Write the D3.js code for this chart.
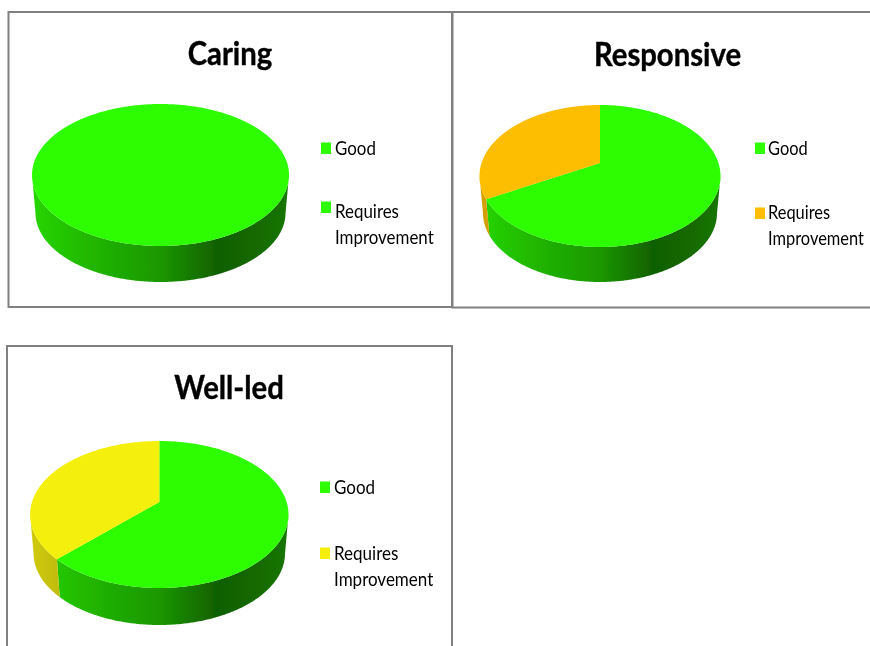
<!DOCTYPE html>
<html>
<head>
<meta charset="utf-8">
<script src="https://cdn.jsdelivr.net/npm/d3@7"></script>
<style>
  html, body { margin: 0; padding: 0; background: #fff; overflow: hidden; }
  text { font-family: Lato, "Open Sans", sans-serif; fill: #000; }
</style>
</head>
<body>
<div id="chart"></div>
<script>
// values (share of the pie, %)
const titles = ["Caring", "Responsive", "Well-led"];
const categories = ["Good", "Requires Improvement"];
const goodValues = [100, 67, 62.5];
const requiresValues = [0, 33, 37.5];
const goodColor = "#2dfc00";
const requiresColors = ["#2dfc00", "#fdbd00", "#f5ef0a"];

// layout of each panel, measured in px
const layouts = [
  { box: [8.5, 12, 452, 307], titleX: 230, titleY: 65, cx: 160.5, rx: 128.5, top: 104, apex: 162, bottom: 246, floor: 282, legendX: 321, legendY: [148, 207], textX: 335, squeeze: 0.89, textY: [155, 218, 244] },
  { box: [452.5, 12, 880, 307.5], titleX: 667.5, titleY: 66, cx: 600, rx: 120.5, top: 105, apex: 163, bottom: 247, floor: 282, legendX: 755, legendY: [148, 213], textX: 768, squeeze: 0.865, textY: [155, 219, 245] },
  { box: [7, 346, 452, 660], titleX: 229, titleY: 399, cx: 159.3, rx: 129.2, top: 441, apex: 502, bottom: 588, floor: 625, legendX: 320, legendY: [487, 553], textX: 334, squeeze: 0.895, textY: [494, 560, 586] }
];

const width = 870, height = 646;

const svg = d3.select("#chart")
  .append("svg")
  .attr("width", width)
  .attr("height", height)
  .attr("viewBox", [0, 0, width, height])
  .style("display", "block");

const defs = svg.append("defs");

// the reference is a slightly soft bitmap
defs.append("filter")
  .attr("id", "soft")
  .attr("filterUnits", "userSpaceOnUse")
  .attr("x", 0).attr("y", 0)
  .attr("width", width).attr("height", height)
  .append("feGaussianBlur")
  .attr("stdDeviation", 0.4);

const root = svg.append("g").attr("filter", "url(#soft)");

// shading along the side wall, as a share of the slice colour
const wallShade = [[0, 0.85], [0.2, 0.74], [0.5, 0.6], [0.72, 0.38], [0.85, 0.41], [1, 0.47]];

const pie = d3.pie().sort(null).value(d => d);
const line = d3.line();

titles.forEach((title, i) => {
  const lay = layouts[i];
  const values = [goodValues[i], requiresValues[i]];
  const colors = [goodColor, requiresColors[i]];
  const g = root.append("g");

  g.append("rect")
    .attr("x", lay.box[0])
    .attr("y", lay.box[1])
    .attr("width", lay.box[2] - lay.box[0])
    .attr("height", lay.box[3] - lay.box[1])
    .attr("fill", "#fff")
    .attr("stroke", "#808080")
    .attr("stroke-width", 2);

  // the pie is tilted with perspective, so the apex sits above the ellipse centre
  const upper = lay.apex - lay.top, lower = lay.bottom - lay.apex;
  const k = (upper - lower) / (upper + lower);
  const ry = upper * (1 - k);
  const rx = lay.rx * Math.sqrt(1 - k * k);
  const midY = (lay.top + lay.bottom) / 2;
  const project = a => {
    const px = Math.sin(a), py = -Math.cos(a), w = 1 + k * py;
    return [lay.cx + rx * px / w, lay.apex + ry * py / w];
  };

  // bottom rim is a touch narrower than the top one
  const shrink = (lay.rx - 3.5) / lay.rx;
  const drop = lay.floor - (midY + (lay.bottom - midY) * shrink);
  const toFloor = p => [lay.cx + (p[0] - lay.cx) * shrink, midY + (p[1] - midY) * shrink + drop];

  const arcs = pie(values).filter(d => d.value > 0);
  const step = Math.PI / 360;
  const sample = d => d3.range(d.startAngle, d.endAngle, step).concat(d.endAngle).map(project);

  // walls first
  arcs.forEach(d => {
    const front = sample(d).filter(p => p[1] >= midY);
    if (!front.length) return;
    const id = `wall-${i}-${d.index}`;
    const color = d3.color(colors[d.index]);
    defs.append("linearGradient")
      .attr("id", id)
      .attr("gradientUnits", "userSpaceOnUse")
      .attr("x1", lay.cx - lay.rx).attr("x2", lay.cx + lay.rx)
      .attr("y1", 0).attr("y2", 0)
      .selectAll("stop")
      .data(wallShade)
      .join("stop")
      .attr("offset", s => s[0])
      .attr("stop-color", s => d3.rgb(color.r * s[1], color.g * s[1], color.b * s[1]).formatHex());
    g.append("path")
      .attr("d", line(front.concat(front.map(toFloor).reverse())) + "Z")
      .attr("fill", `url(#${id})`);
  });

  // top surface
  g.selectAll("path.top")
    .data(arcs)
    .join("path")
    .attr("class", "top")
    .attr("fill", d => colors[d.index])
    .attr("d", d => line([[lay.cx, lay.apex]].concat(sample(d))) + "Z");

  // Lato is wider than the reference's face, so squeeze it sideways
  g.append("text")
    .attr("transform", `translate(${lay.titleX},${lay.titleY}) scale(0.915,1)`)
    .attr("text-anchor", "middle")
    .attr("font-size", 32)
    .attr("font-weight", 700)
    .attr("stroke", "#000")
    .attr("stroke-width", 0.4)
    .text(title);

  // legend
  categories.forEach((c, j) => {
    g.append("rect")
      .attr("x", lay.legendX)
      .attr("y", lay.legendY[j] - 5.5)
      .attr("width", 10)
      .attr("height", 11.5)
      .attr("fill", colors[j]);
  });
  const labels = [categories[0]].concat(categories[1].split(" "));
  g.selectAll("text.legend")
    .data(labels)
    .join("text")
    .attr("class", "legend")
    .attr("transform", (d, j) => `translate(${lay.textX},${lay.textY[j]}) scale(${lay.squeeze},1)`)
    .attr("font-size", 19)
    .text(d => d);
});
</script>
</body>
</html>
